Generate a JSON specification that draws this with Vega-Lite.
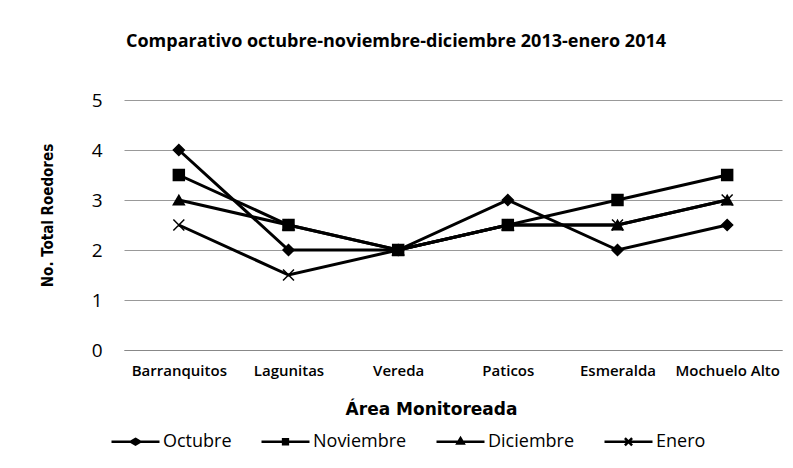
{
  "$schema": "https://vega.github.io/schema/vega-lite/v6.json",
  "width": 658,
  "height": 250,
  "autosize": {"type": "none"},
  "padding": {"left": 124, "top": 100, "right": 11, "bottom": 118},
  "background": "white",
  "config": {"view": {"stroke": null}},
  "title": {
    "text": "Comparativo octubre-noviembre-diciembre 2013-enero 2014",
    "font": "Open Sans", "fontSize": 18, "fontWeight": "bold", "color": "black",
    "anchor": "middle", "dx": -57, "offset": 40
  },
  "data": {"values": [
    {"area": "Barranquitos", "mes": "Octubre", "n": 4},
    {"area": "Lagunitas", "mes": "Octubre", "n": 2},
    {"area": "Vereda", "mes": "Octubre", "n": 2},
    {"area": "Paticos", "mes": "Octubre", "n": 3},
    {"area": "Esmeralda", "mes": "Octubre", "n": 2},
    {"area": "Mochuelo Alto", "mes": "Octubre", "n": 2.5},
    {"area": "Barranquitos", "mes": "Noviembre", "n": 3.5},
    {"area": "Lagunitas", "mes": "Noviembre", "n": 2.5},
    {"area": "Vereda", "mes": "Noviembre", "n": 2},
    {"area": "Paticos", "mes": "Noviembre", "n": 2.5},
    {"area": "Esmeralda", "mes": "Noviembre", "n": 3},
    {"area": "Mochuelo Alto", "mes": "Noviembre", "n": 3.5},
    {"area": "Barranquitos", "mes": "Diciembre", "n": 3},
    {"area": "Lagunitas", "mes": "Diciembre", "n": 2.5},
    {"area": "Vereda", "mes": "Diciembre", "n": 2},
    {"area": "Paticos", "mes": "Diciembre", "n": 2.5},
    {"area": "Esmeralda", "mes": "Diciembre", "n": 2.5},
    {"area": "Mochuelo Alto", "mes": "Diciembre", "n": 3},
    {"area": "Barranquitos", "mes": "Enero", "n": 2.5},
    {"area": "Lagunitas", "mes": "Enero", "n": 1.5},
    {"area": "Vereda", "mes": "Enero", "n": 2},
    {"area": "Paticos", "mes": "Enero", "n": 2.5},
    {"area": "Esmeralda", "mes": "Enero", "n": 2.5},
    {"area": "Mochuelo Alto", "mes": "Enero", "n": 3}
  ]},
  "encoding": {
    "x": {
      "field": "area", "type": "nominal",
      "sort": ["Barranquitos", "Lagunitas", "Vereda", "Paticos", "Esmeralda", "Mochuelo Alto"],
      "scale": {"padding": 0.5},
      "axis": {
        "title": "Área Monitoreada", "labelAngle": 0, "ticks": false,
        "domain": true, "domainColor": "#888", "domainWidth": 1,
        "labelFont": "Open Sans", "labelFontSize": 15, "labelFontWeight": 600, "labelColor": "black", "labelPadding": 13,
        "titleFont": "DejaVu Sans", "titleFontSize": 17, "titleFontWeight": "bold",
        "titleColor": "black", "titleX": 307, "titleY": 59, "titleBaseline": "middle", "titleAlign": "center"
      }
    },
    "y": {
      "field": "n", "type": "quantitative",
      "scale": {"domain": [0, 5]},
      "axis": {
        "title": "No. Total Roedores", "values": [0, 1, 2, 3, 4, 5],
        "grid": true, "gridColor": "#999", "gridWidth": 1,
        "domain": false, "ticks": false,
        "labelFont": "Open Sans", "labelFontSize": 19, "labelColor": "black", "labelPadding": 22,
        "titleFont": "DejaVu Sans Condensed, Liberation Sans", "titleFontSize": 15, "titleFontWeight": "bold",
        "titleColor": "black", "titleX": -77, "titleY": 115, "titleAngle": -90, "titleBaseline": "middle", "titleAlign": "center"
      }
    }
  },
  "layer": [
    {
      "mark": {"type": "line", "color": "black"},
      "encoding": {
        "detail": {"field": "mes", "type": "nominal"},
        "strokeWidth": {
          "field": "mes", "type": "nominal",
          "scale": {"domain": ["Octubre", "Noviembre", "Diciembre", "Enero"], "range": [3, 3, 2, 3]},
          "legend": null
        }
      }
    },
    {
      "mark": {"type": "point", "filled": true, "color": "black", "stroke": "black", "strokeWidth": 1.5, "opacity": 1},
      "encoding": {
        "shape": {
          "field": "mes", "type": "nominal",
          "scale": {
            "domain": ["Octubre", "Noviembre", "Diciembre", "Enero"],
            "range": ["diamond", "square", "triangle-up", "M-1,-1L1,1M-1,1L1,-1"]
          },
          "legend": null
        },
        "size": {"value": 120}
      }
    },
    {
      "mark": {"type": "point", "filled": false, "color": "black", "strokeWidth": 2.5, "opacity": 0},
      "encoding": {
        "shape": {
          "field": "mes", "type": "nominal",
          "scale": {
            "domain": ["Octubre", "Noviembre", "Diciembre", "Enero"],
            "range": [
              "M-1,0L1,0M0,-0.12L0.2,0L0,0.12L-0.2,0Z",
              "M-1,0L1,0M-0.1,-0.1L0.1,-0.1L0.1,0.1L-0.1,0.1Z",
              "M-1,0L1,0M0,-0.15L0.13,0.07L-0.13,0.07Z",
              "M-1,0L1,0M-0.15,-0.15L0.15,0.15M-0.15,0.15L0.15,-0.15"
            ]
          },
          "legend": {
            "orient": "none", "legendX": -14, "legendY": 316,
            "direction": "horizontal", "title": null,
            "labelFont": "Open Sans", "labelFontSize": 18, "labelFontWeight": 500, "labelColor": "black",
            "symbolSize": 2304, "symbolOffset": 0, "labelOffset": 2, "columnPadding": 24,
            "symbolOpacity": 1, "symbolFillColor": "black", "symbolStrokeColor": "black", "symbolStrokeWidth": 2.5
          }
        }
      }
    }
  ],
  "resolve": {"scale": {"shape": "independent"}, "legend": {"shape": "independent"}}
}
